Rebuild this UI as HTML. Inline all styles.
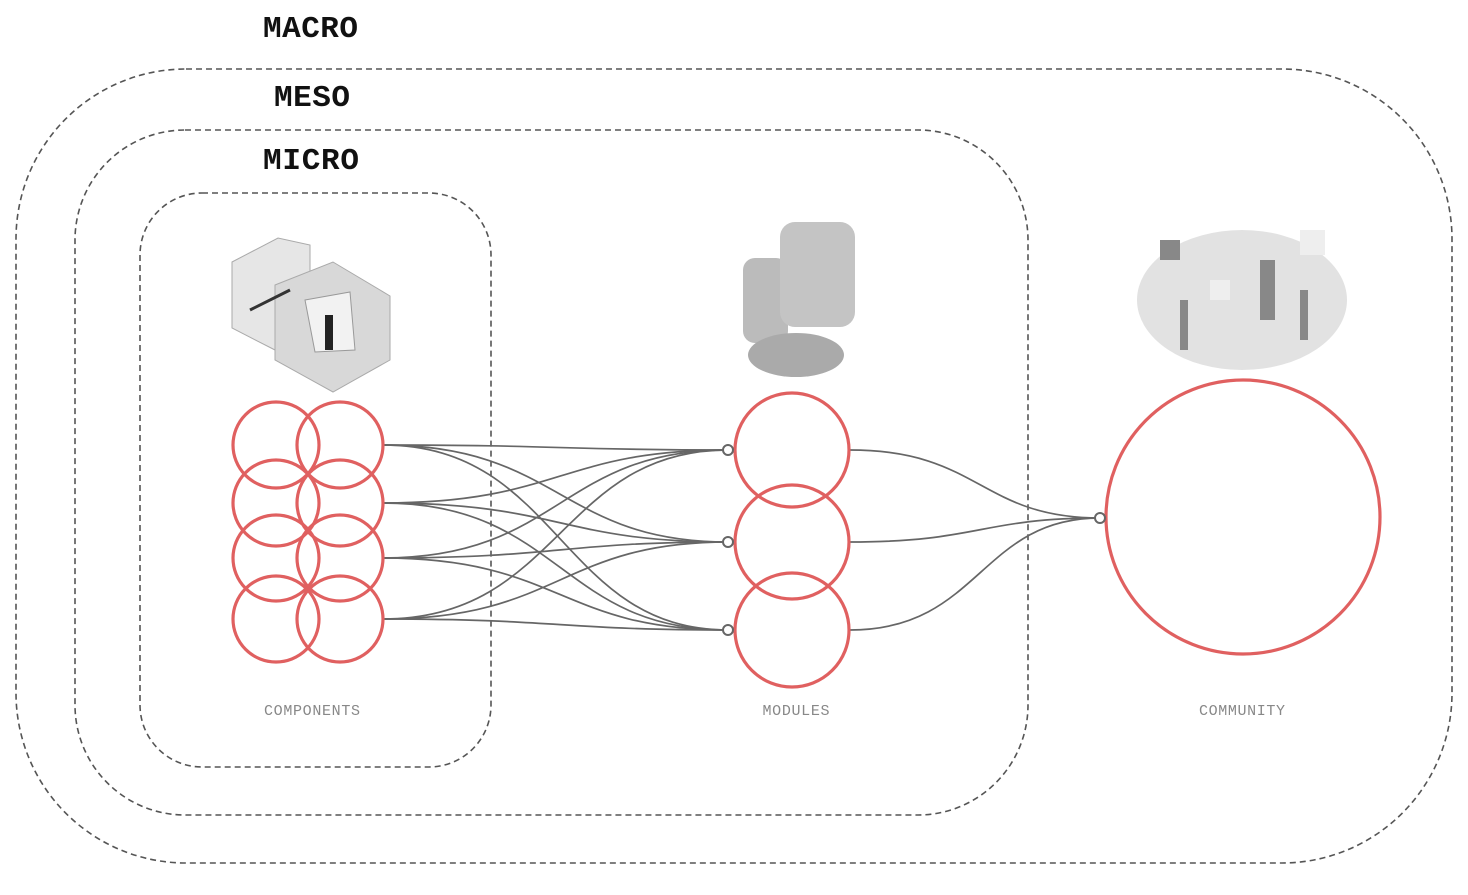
<!DOCTYPE html>
<html><head><style>
body{margin:0;background:#fff;width:1468px;height:890px;overflow:hidden}
svg text{font-family:"Liberation Mono",monospace}
</style></head><body>
<svg width="1468" height="890" viewBox="0 0 1468 890">
<g fill="none" stroke="#555" stroke-width="1.6" stroke-dasharray="6,4">
<rect x="16" y="69" width="1436" height="794" rx="170"/>
<rect x="75" y="130" width="953" height="685" rx="110"/>
<rect x="140" y="193" width="351" height="574" rx="62"/>
</g>
<g font-weight="bold" font-size="31" fill="#111">
<text x="263" y="37" textLength="95">MACRO</text>
<text x="274" y="106" textLength="76">MESO</text>
<text x="263" y="169" textLength="96">MICRO</text>
</g>
<g font-size="15" fill="#888" text-anchor="middle">
<text x="312" y="715" textLength="96">COMPONENTS</text>
<text x="796" y="715" textLength="67">MODULES</text>
<text x="1242" y="715" textLength="86">COMMUNITY</text>
</g>
<g>
<polygon points="232,262 278,238 310,245 310,330 275,350 232,328" fill="#e6e6e6" stroke="#aaa"/>
<polygon points="275,285 333,262 390,296 390,360 333,392 275,360" fill="#d8d8d8" stroke="#aaa"/>
<polygon points="305,300 350,292 355,350 315,352" fill="#f2f2f2" stroke="#999"/>
<rect x="325" y="315" width="8" height="35" fill="#222"/>
<line x1="250" y1="310" x2="290" y2="290" stroke="#333" stroke-width="3"/>
<rect x="743" y="258" width="45" height="85" rx="12" fill="#bbb"/>
<rect x="780" y="222" width="75" height="105" rx="15" fill="#c4c4c4"/>
<ellipse cx="796" cy="355" rx="48" ry="22" fill="#aaa"/>
<ellipse cx="1242" cy="300" rx="105" ry="70" fill="#cfcfcf" opacity=".6"/>
<g fill="#888"><rect x="1160" y="240" width="20" height="20"/><rect x="1300" y="230" width="25" height="25" fill="#eee"/><rect x="1210" y="280" width="20" height="20" fill="#eee"/><rect x="1260" y="260" width="15" height="60"/><rect x="1180" y="300" width="8" height="50"/><rect x="1300" y="290" width="8" height="50"/></g>
</g>
<g fill="none" stroke="#666" stroke-width="1.7">
<path d="M383,445 C560,445 560,450 728,450"/>
<path d="M383,445 C560,445 560,542 728,542"/>
<path d="M383,445 C560,445 560,630 728,630"/>
<path d="M383,503 C560,503 560,450 728,450"/>
<path d="M383,503 C560,503 560,542 728,542"/>
<path d="M383,503 C560,503 560,630 728,630"/>
<path d="M383,558 C560,558 560,450 728,450"/>
<path d="M383,558 C560,558 560,542 728,542"/>
<path d="M383,558 C560,558 560,630 728,630"/>
<path d="M383,619 C560,619 560,450 728,450"/>
<path d="M383,619 C560,619 560,542 728,542"/>
<path d="M383,619 C560,619 560,630 728,630"/>
<path d="M850,450 C980,450 980,518 1100,518"/>
<path d="M850,542 C980,542 980,518 1100,518"/>
<path d="M850,630 C980,630 980,518 1100,518"/>
</g>
<g fill="none" stroke="#e06060" stroke-width="3.2">
<circle cx="276" cy="445" r="43"/><circle cx="340" cy="445" r="43"/>
<circle cx="276" cy="503" r="43"/><circle cx="340" cy="503" r="43"/>
<circle cx="276" cy="558" r="43"/><circle cx="340" cy="558" r="43"/>
<circle cx="276" cy="619" r="43"/><circle cx="340" cy="619" r="43"/>
<circle cx="792" cy="450" r="57"/><circle cx="792" cy="542" r="57"/><circle cx="792" cy="630" r="57"/>
<circle cx="1243" cy="517" r="137"/>
</g>
<g fill="#fff" stroke="#666" stroke-width="2">
<circle cx="728" cy="450" r="5"/><circle cx="728" cy="542" r="5"/><circle cx="728" cy="630" r="5"/>
<circle cx="1100" cy="518" r="5"/>
</g>
</svg>
</body></html>
